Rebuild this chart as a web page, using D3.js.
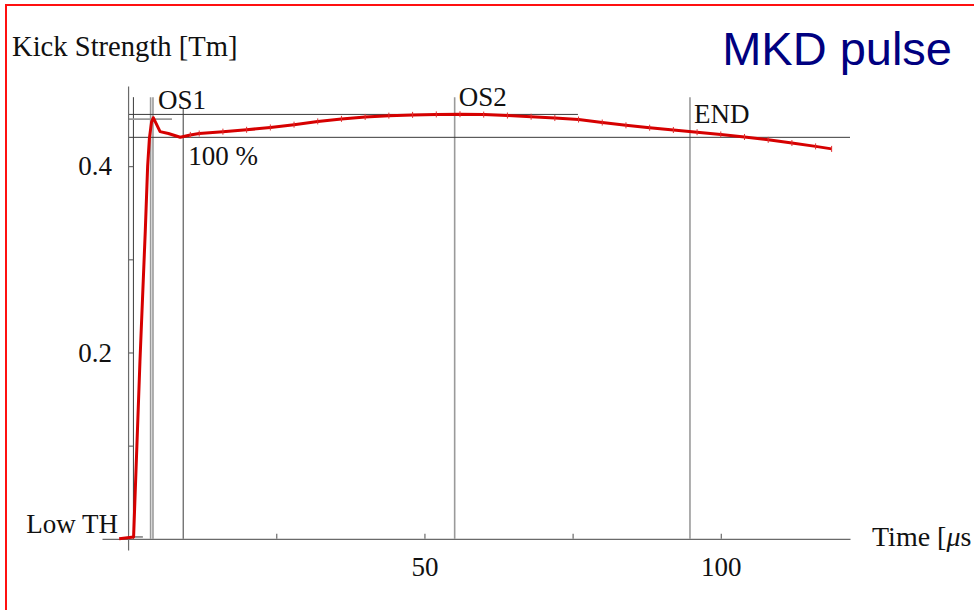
<!DOCTYPE html>
<html>
<head>
<meta charset="utf-8">
<script src="https://cdn.jsdelivr.net/npm/d3@7"></script>
<style>
  body { margin: 0; background: #fff; }
  svg { display: block; }
</style>
</head>
<body>
<svg></svg>
<script>
// pulse readings: time [us] and kick strength [Tm]
const time = [-1.5, 0.93, 2.0, 2.9, 3.3, 3.6, 3.95, 4.25, 5.4, 6.8, 8.8, 10.5, 12, 16, 20, 24, 28, 32, 36, 40, 44, 48, 52, 56, 60, 64, 68, 72, 76, 80, 84, 88, 92, 96, 100, 104, 108, 112, 116, 118.7];
const kick = [0, 0.002, 0.19, 0.33, 0.40, 0.43, 0.447, 0.452, 0.437, 0.435, 0.431, 0.4335, 0.435, 0.437, 0.439, 0.4415, 0.4445, 0.448, 0.4507, 0.4528, 0.4542, 0.455, 0.4555, 0.4557, 0.4553, 0.4543, 0.453, 0.4516, 0.45, 0.4468, 0.4438, 0.4412, 0.4388, 0.4364, 0.434, 0.4313, 0.4282, 0.4248, 0.4212, 0.4185];

// reference lines
const vLineT = [0.9, 3.8, 4.2, 9.3, 55.1, 94.8];
const vLineTop = [0.474, 0.474, 0.474, 0.462, 0.474, 0.474];
const vLineKind = ["dark", "grey", "grey", "dark", "grey", "grey"];

const hLineV = [0.4555, 0.4505, 0.4309, 0.002];
const hLineTo = [75.9, 7.4, 121.8, 2.5];
const hLineKind = ["dark", "grey", "dark", "dark"];

const xTicks = [25, 50, 75, 100];
const xLabels = [50, 100];
const yTicks = [0.1, 0.2, 0.3, 0.4];
const yLabels = [0.2, 0.4];

const w = 974;
const h = 610;
const serif = "'Liberation Serif', 'Times New Roman', serif";

const svg = d3.select("svg")
    .attr("width", w)
    .attr("height", h)
    .attr("viewBox", [0, 0, w, h]);

svg.append("rect").attr("width", w).attr("height", h).attr("fill", "white");

// slide frame
svg.append("rect")
    .attr("x", 6).attr("y", 5)
    .attr("width", 990).attr("height", 640)
    .attr("fill", "none")
    .attr("stroke", "#ff1010")
    .attr("stroke-width", 2);

const x = d3.scaleLinear().domain([-4.4, 121.8]).range([102, 850]);
const y = d3.scaleLinear().domain([-0.012, 0.486]).range([550, 86]);

const lineColor = {dark: "#3a3a3a", grey: "#9a9a9a"};
const lineWidth = {dark: 1, grey: 1.6};

// vertical markers
svg.append("g").selectAll("line")
    .data(vLineT)
    .join("line")
    .attr("x1", d => x(d)).attr("x2", d => x(d))
    .attr("y1", (d, i) => y(vLineTop[i]))
    .attr("y2", y(0))
    .attr("stroke", (d, i) => lineColor[vLineKind[i]])
    .attr("stroke-width", (d, i) => lineWidth[vLineKind[i]]);

// horizontal levels
svg.append("g").selectAll("line")
    .data(hLineV)
    .join("line")
    .attr("x1", x(0))
    .attr("x2", (d, i) => x(hLineTo[i]))
    .attr("y1", d => y(d)).attr("y2", d => y(d))
    .attr("stroke", (d, i) => lineColor[hLineKind[i]])
    .attr("stroke-width", (d, i) => lineWidth[hLineKind[i]]);

// axes
const xAxis = svg.append("g")
    .attr("transform", `translate(0,${y(0)})`)
    .call(d3.axisBottom(x)
        .tickValues(xTicks)
        .tickSize(-5)
        .tickSizeOuter(0)
        .tickPadding(18)
        .tickFormat(d => xLabels.includes(d) ? d : ""));

const yAxis = svg.append("g")
    .attr("transform", `translate(${x(0)},0)`)
    .call(d3.axisLeft(y)
        .tickValues(yTicks)
        .tickSize(-5)
        .tickSizeOuter(0)
        .tickPadding(16)
        .tickFormat(d => yLabels.includes(d) ? d3.format(".1f")(d) : ""));

[xAxis, yAxis].forEach(a => {
    a.selectAll("path, line").attr("stroke", "#6a6a6a").attr("stroke-width", 1.2);
    a.selectAll("text")
        .attr("fill", "#111")
        .style("font-family", serif)
        .style("font-size", "27px");
});

// pulse curve
const pts = time.map((t, i) => [t, kick[i]]);

svg.append("path")
    .datum(pts)
    .attr("fill", "none")
    .attr("stroke", "#d60000")
    .attr("stroke-width", 3)
    .attr("stroke-linejoin", "round")
    .attr("d", d3.line().x(d => x(d[0])).y(d => y(d[1])));

// noise spikes on the sampled points
svg.append("g").selectAll("line")
    .data(pts.filter(d => d[0] >= 10))
    .join("line")
    .attr("x1", d => x(d[0])).attr("x2", d => x(d[0]))
    .attr("y1", d => y(d[1]) - 3)
    .attr("y2", d => y(d[1]) + 3)
    .attr("stroke", "#e03030")
    .attr("stroke-width", 1);

// annotations
const note = (txt, px, py, anchor, size) => svg.append("text")
    .attr("x", px).attr("y", py)
    .attr("text-anchor", anchor || "start")
    .style("font-family", serif)
    .style("font-size", (size || 27) + "px")
    .attr("fill", "#111")
    .text(txt);

note("OS1", x(4.2) + 5, y(0.4555) - 5);
note("OS2", x(55.1) + 4, y(0.4555) - 8);
note("END", x(94.8) + 4, y(0.4369) - 9);
note("100 %", x(9.3) + 5, y(0.4309) + 28);
note("Low TH", x(-1.7), y(0) - 6, "end");
note("Kick Strength [Tm]", 12, 56, "start", 28.6);

const tl = svg.append("text")
    .attr("x", 872).attr("y", 546)
    .style("font-family", serif)
    .style("font-size", "28px")
    .attr("fill", "#111");
tl.append("tspan").text("Time [");
tl.append("tspan").style("font-style", "italic").text("μ");
tl.append("tspan").text("s");

svg.append("text")
    .attr("x", 952).attr("y", 65)
    .attr("text-anchor", "end")
    .style("font-family", "'Liberation Sans', Arial, sans-serif")
    .style("font-size", "47px")
    .attr("fill", "#000080")
    .text("MKD pulse");
</script>
</body>
</html>
